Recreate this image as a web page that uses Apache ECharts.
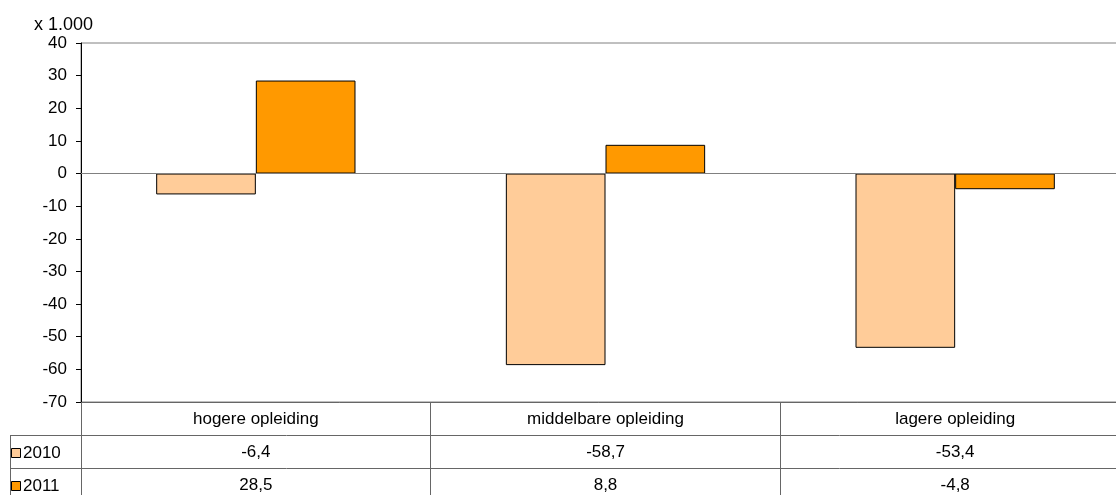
<!DOCTYPE html>
<html>
<head>
<meta charset="utf-8">
<script src="https://cdn.jsdelivr.net/npm/echarts@6/dist/echarts.min.js"></script>
<style>
html,body{margin:0;padding:0;background:#fff;}
#chart{width:1116px;height:495px;}
</style>
</head>
<body>
<div id="chart"></div>
<script>
const categories = ['hogere opleiding', 'middelbare opleiding', 'lagere opleiding'];
const seriesNames = ['2010', '2011'];
const values2010 = [-6.4, -58.7, -53.4];
const values2011 = [28.5, 8.8, -4.8];
const yTicks = { min: -70, max: 40, interval: 10 };
const unitLabel = 'x 1.000';

const colors = ['#FFCC99', '#FF9900'];
const FONT = "'Liberation Sans', Arial, sans-serif";
const FS = 17;
const W = 1116, H = 495;
const gridLeft = 81, gridTop = 43, gridBottom = 93, gridRight = -14;
const rowH = 33;
const axisY = H - gridBottom;
const tableColor = '#666';

const fmt = v => v.toFixed(1).replace('.', ',');
const allValues = [values2010, values2011];

const chart = echarts.init(document.getElementById('chart'));

const graphics = [];
graphics.push({ type: 'text', left: 34, top: 16, style: { text: unitLabel, font: '18px ' + FONT, fill: '#000' } });
for (let r = 1; r <= 2; r++) {
  const y = axisY + r * rowH + 0.5;
  graphics.push({ type: 'line', shape: { x1: 10, y1: y, x2: W, y2: y }, style: { stroke: tableColor, lineWidth: 1 }, silent: true });
}
graphics.push({ type: 'line', shape: { x1: 10.5, y1: axisY + rowH, x2: 10.5, y2: H }, style: { stroke: tableColor, lineWidth: 1 }, silent: true });
seriesNames.forEach((name, i) => {
  const cy = axisY + (i + 1) * rowH + rowH / 2 + 1;
  graphics.push({ type: 'rect', shape: { x: 11.5, y: Math.round(cy - 5) + 0.5, width: 9, height: 9 }, style: { fill: colors[i], stroke: '#000', lineWidth: 1 }, silent: true });
  graphics.push({ type: 'text', x: 23, y: cy + 1, style: { text: name, font: FS + 'px ' + FONT, fill: '#000', verticalAlign: 'middle' }, silent: true });
});

const option = {
  animation: false,
  backgroundColor: '#fff',
  grid: { left: gridLeft, top: gridTop, right: gridRight, bottom: gridBottom, show: true, borderColor: '#808080', borderWidth: 1, containLabel: false, outerBoundsMode: 'none' },
  xAxis: {
    type: 'category',
    data: categories,
    position: 'bottom',
    axisLine: { show: true, onZero: false, lineStyle: { color: tableColor, width: 1 } },
    axisTick: { show: true, interval: 0, length: gridBottom, lineStyle: { color: tableColor, width: 1 } },
    axisLabel: {
      interval: 0,
      margin: 1,
      formatter: (val, idx) => '{c|' + val + '}\n{v|' + fmt(allValues[0][idx]) + '}\n{v|' + fmt(allValues[1][idx]) + '}',
      rich: {
        c: { fontFamily: FONT, fontSize: FS, color: '#000', lineHeight: rowH, height: rowH },
        v: { fontFamily: FONT, fontSize: FS, color: '#000', lineHeight: rowH, height: rowH }
      }
    },
    splitLine: { show: false }
  },
  yAxis: {
    type: 'value',
    min: yTicks.min,
    max: yTicks.max,
    interval: yTicks.interval,
    axisLine: { show: true, lineStyle: { color: '#000', width: 1 } },
    axisTick: { show: true, length: 5, lineStyle: { color: '#000' } },
    axisLabel: { fontFamily: FONT, fontSize: FS, color: '#000', margin: 14 },
    splitLine: { show: false }
  },
  series: seriesNames.map((name, i) => ({
    name: name,
    type: 'bar',
    data: allValues[i],
    barGap: '0%',
    barCategoryGap: '43%',
    itemStyle: { color: colors[i], borderColor: '#000', borderWidth: 1 },
    markLine: i === 0 ? {
      silent: true, symbol: 'none', label: { show: false },
      lineStyle: { color: '#808080', type: 'solid', width: 1 },
      data: [{ yAxis: 0 }]
    } : undefined
  })),
  graphic: graphics
};
chart.setOption(option);
</script>
</body>
</html>
